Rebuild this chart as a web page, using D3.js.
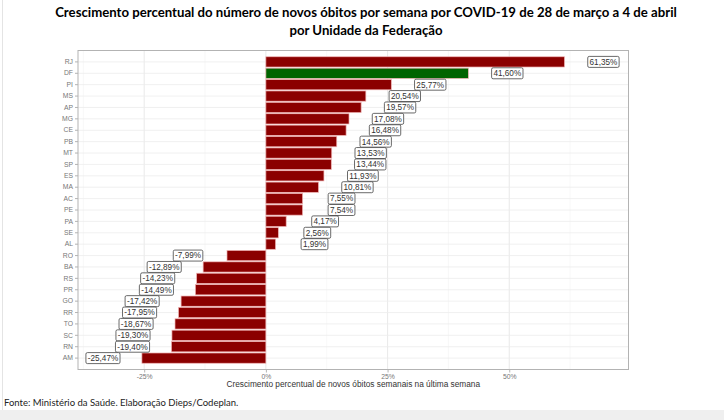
<!DOCTYPE html>
<html>
<head>
<meta charset="utf-8">
<script src="https://cdn.jsdelivr.net/npm/d3@7"></script>
<style>
  html, body { margin: 0; padding: 0; background: #fff; }
  svg { display: block; }
</style>
</head>
<body>
<div id="chart"></div>
<script>
// Unidades da Federação, de cima para baixo
const states = ['RJ', 'DF', 'PI', 'MS', 'AP', 'MG', 'CE', 'PB', 'MT', 'SP', 'ES', 'MA', 'AC',
                'PE', 'PA', 'SE', 'AL', 'RO', 'BA', 'RS', 'PR', 'GO', 'RR', 'TO', 'SC', 'RN', 'AM'];
const growth = [61.35, 41.60, 25.77, 20.54, 19.57, 17.08, 16.48, 14.56, 13.53, 13.44, 11.93, 10.81, 7.55,
                7.54, 4.17, 2.56, 1.99, -7.99, -12.89, -14.23, -14.49, -17.42, -17.95, -18.67, -19.30, -19.40, -25.47];
const highlight = ['DF'];
const xTicks = [-25, 0, 25, 50];
const xMinor = [-37.5, -12.5, 12.5, 37.5, 62.5];

const titleLines = [
  'Crescimento percentual do número de novos óbitos por semana por COVID-19 de 28 de março a 4 de abril',
  'por Unidade da Federação'
];
const xTitle = 'Crescimento percentual de novos óbitos semanais na última semana';
const source = 'Fonte: Ministério da Saúde. Elaboração Dieps/Codeplan.';

const data = states.map((s, i) => ({ uf: s, v: growth[i] }));

const W = 724, H = 420;
const panel = { left: 78, right: 628.5, top: 50.5, bottom: 369.5 };
const labelOffset = 8;

const svg = d3.select('#chart').append('svg')
    .attr('width', W)
    .attr('height', H);

// bottom grey strip + faint left frame (screenshot look)
svg.append('rect').attr('x', 0).attr('y', 410).attr('width', W).attr('height', 10).attr('fill', '#efefef');
svg.append('line').attr('x1', 2.5).attr('x2', 2.5).attr('y1', 0).attr('y2', 410)
    .attr('stroke', '#e4e4e4');

const x = d3.scaleLinear()
    .domain([-38.6, 74.5])
    .range([panel.left, panel.right]);

const y = d3.scaleBand()
    .domain(states)
    .range([panel.top, panel.bottom])
    .paddingInner(0.1)
    .paddingOuter(0.55);

// grid
const grid = svg.append('g');
grid.selectAll('line.minor').data(xMinor).join('line')
    .attr('x1', d => x(d)).attr('x2', d => x(d))
    .attr('y1', panel.top).attr('y2', panel.bottom)
    .attr('stroke', '#f3f3f3').attr('stroke-width', 0.6);
grid.selectAll('line.major').data(xTicks).join('line')
    .attr('x1', d => x(d)).attr('x2', d => x(d))
    .attr('y1', panel.top).attr('y2', panel.bottom)
    .attr('stroke', '#e6e6e6').attr('stroke-width', 0.9);
grid.selectAll('line.h').data(states).join('line')
    .attr('x1', panel.left).attr('x2', panel.right)
    .attr('y1', d => y(d) + y.bandwidth() / 2).attr('y2', d => y(d) + y.bandwidth() / 2)
    .attr('stroke', '#ececec').attr('stroke-width', 0.8);

// bars
svg.append('g').selectAll('rect').data(data).join('rect')
    .attr('x', d => x(Math.min(0, d.v)))
    .attr('y', d => y(d.uf))
    .attr('width', d => Math.abs(x(d.v) - x(0)))
    .attr('height', y.bandwidth())
    .attr('fill', d => highlight.includes(d.uf) ? '#006400' : '#8b0000')
    .attr('stroke', '#f0b4b4')
    .attr('stroke-width', 0.7);

// panel border
svg.append('rect')
    .attr('x', panel.left).attr('y', panel.top)
    .attr('width', panel.right - panel.left).attr('height', panel.bottom - panel.top)
    .attr('fill', 'none').attr('stroke', '#b3b3b3').attr('stroke-width', 1);

// value labels (comma decimal, plain hyphen for negatives)
const fmt = v => v.toFixed(2).replace('.', ',') + '%';
const lab = svg.append('g').selectAll('g').data(data).join('g')
    .attr('transform', d => `translate(${x(d.v + (d.v >= 0 ? labelOffset : -labelOffset))},${y(d.uf) + y.bandwidth() / 2})`);
lab.append('text')
    .text(d => fmt(d.v))
    .attr('text-anchor', 'middle')
    .attr('dy', '0.35em')
    .attr('font-family', 'Liberation Sans, Arial, sans-serif')
    .attr('font-size', 8.2)
    .attr('fill', '#333');
lab.each(function() {
  const g = d3.select(this);
  const bb = g.select('text').node().getBBox();
  g.insert('rect', 'text')
      .attr('x', bb.x - 1.8).attr('y', -5.5)
      .attr('width', bb.width + 3.6).attr('height', 11)
      .attr('rx', 1.5)
      .attr('fill', '#fff')
      .attr('stroke', '#444')
      .attr('stroke-width', 0.8);
});

// axes
const yAxis = svg.append('g')
    .attr('transform', `translate(${panel.left},0)`)
    .call(d3.axisLeft(y).tickSize(3).tickPadding(2));
const xAxis = svg.append('g')
    .attr('transform', `translate(0,${panel.bottom})`)
    .call(d3.axisBottom(x).tickValues(xTicks).tickSize(3).tickPadding(2).tickFormat(d => d + '%'));
[yAxis, xAxis].forEach(a => {
  a.select('.domain').remove();
  a.selectAll('.tick line').attr('stroke', '#b3b3b3');
  a.selectAll('.tick text')
      .attr('font-family', 'Liberation Sans, Arial, sans-serif')
      .attr('font-size', 6.8)
      .attr('fill', '#777');
});

svg.append('text')
    .attr('x', (panel.left + panel.right) / 2)
    .attr('y', 387)
    .attr('text-anchor', 'middle')
    .attr('font-family', 'Liberation Sans, Arial, sans-serif')
    .attr('font-size', 8.3)
    .attr('fill', '#333')
    .text(xTitle);

// title
svg.append('g').selectAll('text').data(titleLines).join('text')
    .attr('x', 366)
    .attr('y', (d, i) => 17 + i * 18)
    .attr('text-anchor', 'middle')
    .attr('font-family', 'Lato, Open Sans, sans-serif')
    .attr('font-weight', 'bold')
    .attr('font-size', 13.2)
    .attr('fill', '#000')
    .text(d => d);

// source
svg.append('text')
    .attr('x', 4)
    .attr('y', 406)
    .attr('font-family', 'Lato, Open Sans, sans-serif')
    .attr('font-size', 9.5)
    .attr('fill', '#222')
    .text(source);
</script>
</body>
</html>
